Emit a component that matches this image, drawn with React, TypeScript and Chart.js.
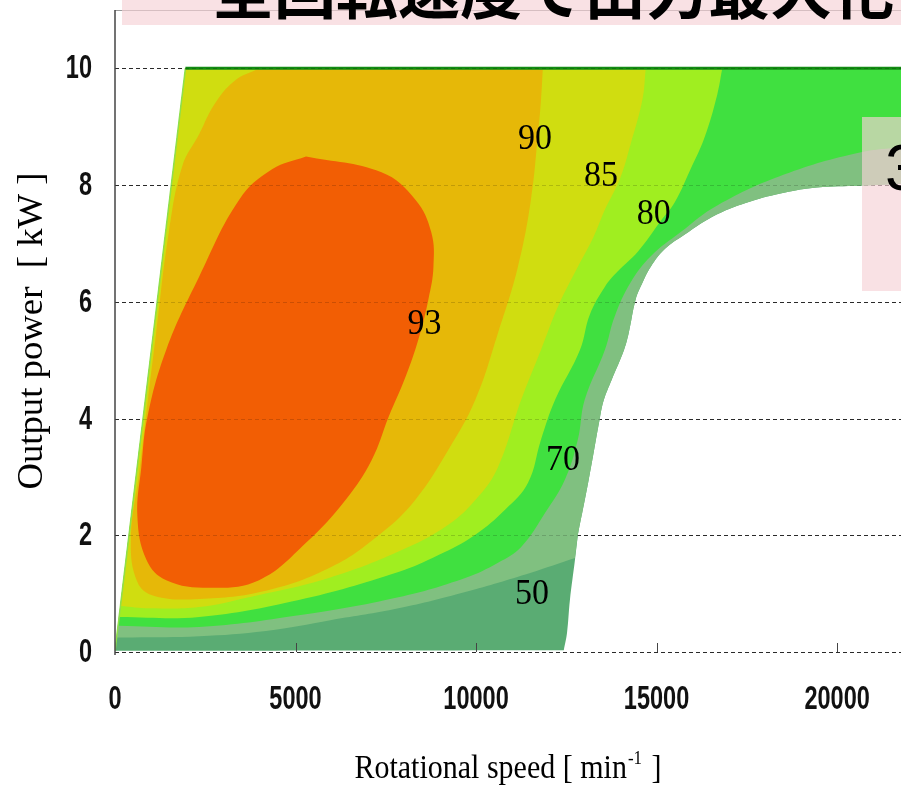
import { useEffect, useRef } from "react";
import { Chart, registerables } from "chart.js";

Chart.register(...registerables);

type P = [number, number];

// ---- axes ----
const X_TICKS = [0, 5000, 10000, 15000, 20000];
const X_TICK_LABELS = ["0", "5000", "10000", "15000", "20000"];
const Y_TICKS = [0, 2, 4, 6, 8, 10];
const Y_TICK_LABELS = ["0", "2", "4", "6", "8", "10"];
const X_MAX = 21770;
const Y_MAX = 11;

// ---- operating envelope [rpm, kW] ----
const CORNER_BL: P = [0, 0.02];
const CORNER_TL: P = [1950, 10];
const CORNER_TR: P = [22000, 10];
const WHITE_UPPER: P[] = [
  [22000, 8.03], [20630, 7.99], [19440, 7.96], [18530, 7.87], [17600, 7.72],
  [16680, 7.5], [15770, 7.15], [15220, 6.9], [14840, 6.6], [14590, 6.3],
  [14420, 6.04], [14230, 5.47], [14100, 5.18], [13760, 4.67], [13540, 4.32],
  [13430, 4.01], [13120, 2.95], [12820, 2.01],
];
const WHITE_LOWER: P[] = [
  [12820, 2.01], [12740, 1.58], [12600, 0.89], [12520, 0.33], [12430, 0.03],
];

// ---- efficiency contours [rpm, kW] ----
const CONTOUR_50: P[] = [
  [12740, 1.61], [11520, 1.36], [9700, 1.03], [7850, 0.75], [6000, 0.55],
  [4180, 0.36], [2330, 0.27], [480, 0.25], [50, 0.25],
];
const CONTOUR_70: P[] = [
  [22000, 8.66], [20630, 8.56], [18530, 8.18], [16680, 7.65], [15660, 7.19],
  [14840, 6.78], [14280, 6.33], [13840, 5.75], [13570, 5.18], [13010, 4.32],
  [12820, 3.64], [12460, 2.95], [11910, 2.38], [11250, 1.8], [10610, 1.53],
  [9700, 1.27], [7850, 0.94], [5090, 0.63], [2330, 0.43], [100, 0.45],
];
const CONTOUR_80: P[] = [
  [16820, 10], [16680, 9.55], [16330, 8.82], [15940, 8.27], [15500, 7.7],
  [15110, 7.38], [14480, 6.86], [13920, 6.52], [13570, 6.26], [13150, 5.78],
  [12880, 5.18], [12190, 4.32], [11800, 3.64], [11440, 2.9], [10810, 2.44],
  [9980, 2.01], [8960, 1.66], [7850, 1.37], [5090, 0.89], [2330, 0.6], [120, 0.6],
];
const CONTOUR_85: P[] = [
  [14700, 10], [14610, 9.47], [14280, 8.7], [13980, 8.1], [13570, 7.58],
  [13260, 7.12], [12820, 6.6], [12270, 5.92], [11800, 5.18], [11250, 4.32],
  [10610, 3.17], [10060, 2.66], [9230, 2.18], [7850, 1.72], [5920, 1.27],
  [3710, 0.94], [2330, 0.77], [950, 0.75], [150, 0.79],
];
const CONTOUR_90: P[] = [
  [11850, 10], [11800, 9.47], [11720, 8.9], [11520, 7.75], [11160, 6.6],
  [10610, 5.47], [9980, 4.32], [9230, 3.46], [8320, 2.61], [7380, 2.04],
  [6000, 1.46], [4180, 1.05], [2330, 0.91], [1090, 0.96], [620, 1.2],
  [440, 1.92], [680, 3.12], [910, 4.32], [1140, 5.47], [1490, 7.19],
  [1860, 8.32], [2330, 8.87], [2750, 9.38], [3300, 9.78], [4000, 10],
];
const CONTOUR_93: P[] = [
  [5290, 8.49], [7380, 8.22], [8320, 7.75], [8760, 7.19], [8820, 6.6],
  [8680, 6.04], [8400, 5.35], [8050, 4.72], [7580, 4.03], [7110, 3.29],
  [6390, 2.61], [5290, 1.87], [3990, 1.23], [2610, 1.1], [1420, 1.23],
  [870, 1.58], [620, 2.32], [730, 3.17], [900, 4.03], [1420, 5.18],
  [2330, 6.43], [3440, 7.75], [4350, 8.27], [5290, 8.49],
];

// ---- contour labels ----
const LABEL_TEXT = ["90", "85", "80", "93", "70", "50"];
const LABEL_RPM = [11630, 13460, 14920, 8570, 12410, 11550];
const LABEL_KW = [8.78, 8.15, 7.5, 5.61, 3.29, 0.98];

const COLORS = {
  below50: "#5aac73",
  r50: "#80c080",
  r70: "#40e040",
  r80: "#a0ee20",
  r85: "#d0dd10",
  r90: "#e6b808",
  r93: "#f25e04",
};

const xy = (p: P) => ({ x: p[0], y: p[1] });
const last = (a: P[]) => a[a.length - 1];
function shape(...parts: P[][]) {
  const out: { x: number; y: number }[] = [];
  for (const part of parts) {
    out.push(xy(part[0]));
    for (const p of part) out.push(xy(p));
    out.push(xy(part[part.length - 1]));
  }
  return out;
}

function region(label: string, data: any[], color: string, order: number) {
  return {
    label,
    data,
    showLine: true,
    fill: "shape",
    backgroundColor: color,
    borderColor: "rgba(0,0,0,0)",
    borderWidth: 0,
    pointRadius: 0,
    tension: 0.4,
    order,
  };
}

function drawText(
  ctx: CanvasRenderingContext2D,
  s: string,
  x: number,
  y: number,
  font: string,
  o: { align?: CanvasTextAlign; baseline?: CanvasTextBaseline; sx?: number; sy?: number; rot?: number; color?: string } = {}
) {
  ctx.save();
  ctx.translate(x, y);
  if (o.rot) ctx.rotate(o.rot);
  ctx.scale(o.sx ?? 1, o.sy ?? 1);
  ctx.font = font;
  ctx.textAlign = o.align ?? "left";
  ctx.textBaseline = o.baseline ?? "alphabetic";
  ctx.fillStyle = o.color ?? "#000";
  ctx.fillText(s, 0, 0);
  ctx.restore();
}

const SERIF = "'Liberation Serif', 'Times New Roman', serif";
const SANS = "'Liberation Sans', Arial, sans-serif";

const decorPlugin = {
  id: "decor",
  beforeDatasetsDraw(chart: any) {
    const { ctx, chartArea: a, scales } = chart;
    ctx.save();
    ctx.strokeStyle = "#333";
    ctx.lineWidth = 1;
    ctx.setLineDash([4, 3]);
    for (const v of Y_TICKS) {
      const py = Math.round(scales.y.getPixelForValue(v)) + 0.5;
      ctx.beginPath();
      ctx.moveTo(a.left, py);
      ctx.lineTo(a.right, py);
      ctx.stroke();
    }
    ctx.restore();
  },
  afterDatasetsDraw(chart: any) {
    const { ctx, chartArea: a, scales } = chart;
    const xs = scales.x;
    const ys = scales.y;
    ctx.save();
    // faint grid visible through the map
    ctx.strokeStyle = "rgba(0,0,0,0.16)";
    ctx.lineWidth = 1;
    ctx.setLineDash([4, 3]);
    for (const v of Y_TICKS) {
      const py = Math.round(ys.getPixelForValue(v)) + 0.5;
      ctx.beginPath();
      ctx.moveTo(a.left, py);
      ctx.lineTo(a.right, py);
      ctx.stroke();
    }
    ctx.setLineDash([]);
    // x tick marks
    ctx.strokeStyle = "#444";
    for (const v of X_TICKS) {
      if (v === 0) continue;
      const px = Math.round(xs.getPixelForValue(v)) + 0.5;
      ctx.beginPath();
      ctx.moveTo(px, a.bottom);
      ctx.lineTo(px, a.bottom - 9);
      ctx.stroke();
    }
    // top frame
    ctx.strokeStyle = "#9a9a9a";
    ctx.beginPath();
    ctx.moveTo(a.left, a.top + 0.5);
    ctx.lineTo(a.right, a.top + 0.5);
    ctx.stroke();
    // left axis
    ctx.strokeStyle = "#444";
    ctx.lineWidth = 1.5;
    ctx.beginPath();
    ctx.moveTo(a.left, a.top);
    ctx.lineTo(a.left, a.bottom + 3);
    ctx.stroke();
    ctx.restore();

    // contour labels
    LABEL_TEXT.forEach((t, i) => {
      drawText(ctx, t, xs.getPixelForValue(LABEL_RPM[i]), ys.getPixelForValue(LABEL_KW[i]), `34px ${SERIF}`, {
        align: "center",
        baseline: "middle",
        sy: 1.08,
      });
    });

    // tick labels
    X_TICKS.forEach((v, i) => {
      drawText(ctx, X_TICK_LABELS[i], xs.getPixelForValue(v), 700, `bold 28px ${SANS}`, {
        align: "center",
        baseline: "middle",
        sx: 0.84,
        sy: 1.17,
        color: "#111",
      });
    });
    Y_TICKS.forEach((v, i) => {
      drawText(ctx, Y_TICK_LABELS[i], 92, ys.getPixelForValue(v) + 1, `bold 28px ${SANS}`, {
        align: "right",
        baseline: "middle",
        sx: 0.84,
        sy: 1.17,
        color: "#111",
      });
    });

    // x axis title with superscript
    const mid = (a.left + a.right) / 2;
    ctx.save();
    ctx.font = `30px ${SERIF}`;
    const w1 = ctx.measureText("Rotational speed [ min").width;
    const w3 = ctx.measureText(" ]").width;
    ctx.font = `17px ${SERIF}`;
    const w2 = ctx.measureText("-1").width;
    ctx.restore();
    const start = mid - (w1 + w2 + 3 + w3) / 2;
    drawText(ctx, "Rotational speed [ min", start, 778, `30px ${SERIF}`, { sy: 1.1 });
    drawText(ctx, "-1", start + w1 + 1, 764, `17px ${SERIF}`, { sy: 1.1 });
    drawText(ctx, " ]", start + w1 + w2 + 3, 778, `30px ${SERIF}`, { sy: 1.1 });

    // y axis title
    drawText(ctx, "Output power  [ kW ]", 42, (a.top + a.bottom) / 2, `36px ${SERIF}`, {
      align: "center",
      rot: -Math.PI / 2,
      sx: 1.02,
    });
  },
  afterDraw(chart: any) {
    const { ctx } = chart;
    ctx.save();
    // slide banner (top)
    ctx.fillStyle = "rgba(246,210,214,0.66)";
    ctx.fillRect(122, 0, 800, 25);
    ctx.beginPath();
    ctx.rect(122, 0, 800, 25);
    ctx.clip();
    drawText(ctx, "・全回転速度で出力最大化を実現", 150, 21, `bold 62px 'Noto Sans CJK JP', sans-serif`, {
      baseline: "ideographic",
    });
    ctx.restore();
    // callout box (right)
    ctx.save();
    ctx.fillStyle = "rgba(246,210,214,0.66)";
    ctx.fillRect(862, 117, 60, 174);
    ctx.beginPath();
    ctx.rect(862, 117, 60, 174);
    ctx.clip();
    drawText(ctx, "3倍", 885, 190, `64px ${SANS}`, {});
    ctx.restore();
  },
};

export default function App() {
  const ref = useRef<HTMLCanvasElement>(null);
  useEffect(() => {
    const datasets: any[] = [
      region(
        "envelope",
        shape([CORNER_BL, CORNER_TL], [CORNER_TL, CORNER_TR], [CORNER_TR, WHITE_UPPER[0]], WHITE_UPPER, WHITE_LOWER, [last(WHITE_LOWER), CORNER_BL]),
        COLORS.below50,
        20
      ),
      region(
        ">=50",
        shape([last(CONTOUR_50), CORNER_TL], [CORNER_TL, CORNER_TR], [CORNER_TR, WHITE_UPPER[0]], WHITE_UPPER, CONTOUR_50),
        COLORS.r50,
        19
      ),
      region(">=70", shape([last(CONTOUR_70), CORNER_TL], [CORNER_TL, CORNER_TR], [CORNER_TR, CONTOUR_70[0]], CONTOUR_70), COLORS.r70, 18),
      region(">=80", shape([last(CONTOUR_80), CORNER_TL], [CORNER_TL, CONTOUR_80[0]], CONTOUR_80), COLORS.r80, 17),
      region(">=85", shape([last(CONTOUR_85), CORNER_TL], [CORNER_TL, CONTOUR_85[0]], CONTOUR_85), COLORS.r85, 16),
      region(">=90", shape(CONTOUR_90, [last(CONTOUR_90), CONTOUR_90[0]]), COLORS.r90, 15),
      region(">=93", CONTOUR_93.map(xy), COLORS.r93, 14),
      {
        label: "torque limit",
        data: [CORNER_BL, CORNER_TL].map(xy),
        showLine: true,
        fill: false,
        borderColor: "#8fe04a",
        borderWidth: 1.5,
        pointRadius: 0,
        tension: 0,
        order: 2,
      },
      {
        label: "power limit",
        data: [CORNER_TL, CORNER_TR].map(xy),
        showLine: true,
        fill: false,
        borderColor: "#138c13",
        borderWidth: 3,
        pointRadius: 0,
        tension: 0,
        order: 1,
      },
    ];
    const chart = new Chart(ref.current as HTMLCanvasElement, {
      type: "scatter",
      data: { datasets },
      options: {
        responsive: false,
        devicePixelRatio: 1,
        animation: false,
        events: [],
        layout: { padding: { left: 115, top: 10, right: 0, bottom: 133 } },
        scales: {
          x: { type: "linear", min: 0, max: X_MAX, display: false },
          y: { type: "linear", min: 0, max: Y_MAX, display: false },
        },
        plugins: { legend: { display: false }, tooltip: { enabled: false } },
      },
      plugins: [decorPlugin],
    } as any);
    return () => chart.destroy();
  }, []);
  return (
    <div style={{ position: "fixed", left: 0, top: 0, width: 901, height: 785, overflow: "hidden", background: "#fff" }}>
      <canvas ref={ref} width={901} height={785} style={{ position: "absolute", left: 0, top: 0, width: 901, height: 785 }} />
    </div>
  );
}
